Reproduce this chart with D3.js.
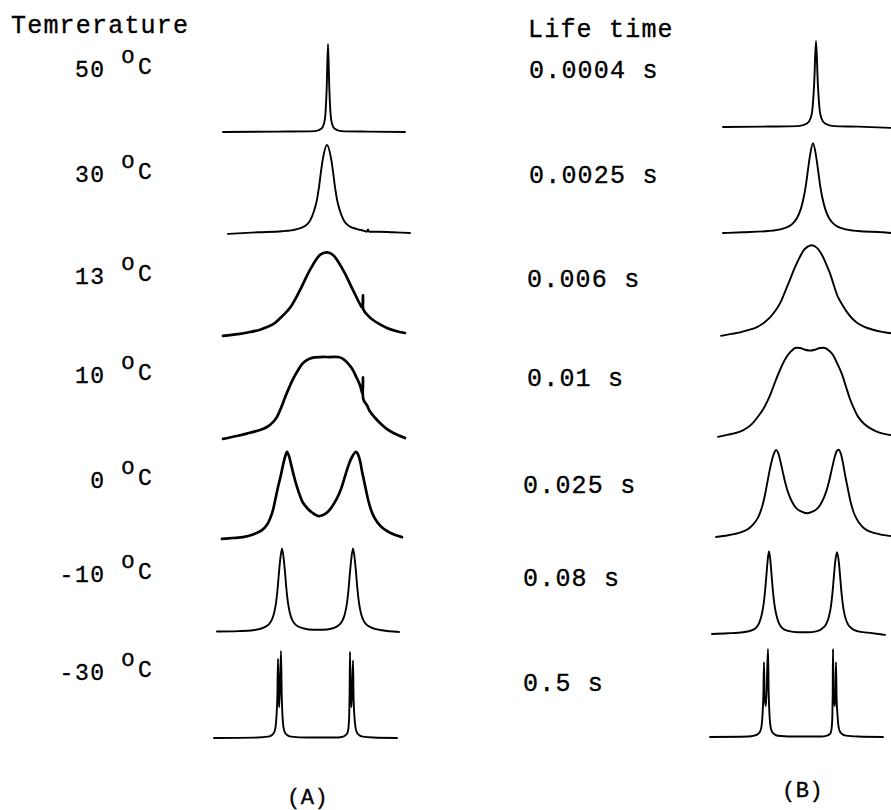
<!DOCTYPE html>
<html>
<head>
<meta charset="utf-8">
<script src="https://cdn.jsdelivr.net/npm/d3@7"></script>
<style>
  html, body { margin: 0; padding: 0; background: #fff; }
  svg { display: block; }
</style>
</head>
<body>
<div id="chart"></div>
<script>
// ---------------- DATA ----------------
const temperatures = ["50", "30", "13", "10", "0", "-10", "-30"];
const lifetimes = ["0.0004 s", "0.0025 s", "0.006 s", "0.01 s", "0.025 s", "0.08 s", "0.5 s"];
const panelLabels = ["(A)", "(B)"];
const headerA = "Temrerature";
const headerB = "Life time";

// Panel A: measured spectra (frequency offset, relative intensity)
const specA50 = [[-95,0],[-40,0.4],[-3,1],[3.6,4],[6.1,10],[7.4,20],[8.7,50],[10,100],[11.3,50],[12.6,20],[13.9,10],[16.4,4],[23,1],[50,0.4],[87,0]];
const specA30 = [[-90,-1],[-60,0.8],[-36,2],[-21,4.5],[-13,8],[-8,14],[-4,25],[-1,38],[1,52],[3,70],[5,85],[9,100],[13,85],[15,70],[17,52],[19,38],[22,25],[26,14],[31,8],[39,4.5],[46,2.5],[49,1.5],[50,4],[51,1.5],[60,1.5],[75,0.8],[92,0]];
const specA13 = [[-95,-1],[-80,1],[-68,3.4],[-58,6],[-51,9],[-44,13],[-38,19],[-28,31],[-18,51],[-8,74],[2,91],[9,94],[15,91],[25,74],[35,51],[43,33],[44.6,31],[45,45],[45.4,29],[50,22],[55,17],[62,12],[69,8],[78,4.5],[87,2.3]];
const specA10 = [[-95,-1],[-80,2.5],[-68,6],[-58,9],[-51,12.5],[-45,18],[-41,24],[-37,34],[-33,46],[-29,57],[-25,67],[-20,77],[-16,84],[-12,88],[-6,91],[2,92],[12,92],[20,92],[25,90],[29,86],[34,79],[38,70],[42,60],[44.6,50],[45,69],[45.4,44],[49,37],[52,30],[57,23],[62,17],[68,11],[75,6],[87,0]];
const specA0 = [[-96,-1],[-85,0],[-75,1],[-65,4],[-56,9],[-51,15],[-46,28],[-43,42],[-40,58],[-37,72],[-35,83],[-33,92],[-31,98],[-29,93],[-27,84],[-24,70],[-21,58],[-18,48],[-15,40],[-10,33],[-6,29],[0,25],[5,26],[9,29],[13,34],[17,41],[21,50],[24,59],[27,70],[30,81],[34,92],[38,98],[40,95],[42,88],[44,76],[47,60],[50,44],[53,32],[56,24],[60,17],[65,11],[72,6],[84,1]];
const specAm10 = [[-101,0.5],[-80,1],[-65,2],[-58,3.5],[-51,7],[-47,12],[-44,21],[-42,33],[-40.5,48],[-39,68],[-38,80],[-36,95],[-34,80],[-33,68],[-31.5,48],[-30,33],[-28,21],[-25,12],[-21,7],[-14,4],[-5,2.5],[5,2.5],[14,4],[20,7],[24,12],[27,21],[29,33],[30.5,48],[32,68],[33,80],[35,95],[37,80],[38,68],[39.5,48],[41,33],[43,21],[46,12],[50,7],[57,3.5],[64,2],[81,0]];
const specAm30 = [[-104,0],[-60,0.5],[-50,1.5],[-46,3.5],[-44,6],[-42.5,12],[-41.5,25],[-40.6,50],[-40,90],[-39.4,45],[-38.7,35],[-37,99],[-36.3,50],[-35.5,25],[-34.5,12],[-33,6],[-31,3.5],[-27,1.5],[-10,0.5],[20,0.5],[25,1.5],[28,3.5],[29.5,6],[30.5,12],[31.2,25],[31.6,50],[32,98],[32.7,45],[33.5,35],[35,88],[35.6,45],[36.4,25],[37.5,12],[39,6],[41,3.5],[45,1.5],[55,0.5],[79,0]];

// Panel B: simulated spectra (frequency offset, relative intensity)
const specB0004 = [[-85,0],[-40,0.5],[-10,1],[-1,4],[2.6,10],[4.4,20],[6.2,50],[8,98],[9.8,50],[11.6,20],[13.4,10],[17,4],[26,1],[50,0.4],[83,-1]];
const specB0025 = [[-85,0],[-65,0.8],[-40,2.2],[-25,5],[-17,9],[-11,17],[-7,28],[-4,42],[-2,55],[0,72],[2,88],[5,102],[8,88],[10,72],[12,55],[14,42],[17,28],[21,17],[27,9],[35,5],[50,2.2],[75,0.8],[83,0]];
const specB006 = [[-87,-1],[-78,1],[-68,3],[-60,5.5],[-51,9],[-44,14],[-38,20],[-33,27],[-28,36],[-23,49],[-18,63],[-13,77],[-8,89],[-3,98],[4,102],[9,99],[14,91],[18,81],[22,70],[26,56],[30,43],[34,35],[39,26],[44,19],[49,14],[57,9],[65,6],[74,3.5],[83,2]];
const specB01 = [[-90,-1],[-80,1.5],[-68,5],[-60,10],[-55,15],[-50,22],[-45,30],[-40,41],[-36,52],[-32,64],[-28,75],[-23,87],[-18,95],[-13,100],[-8,100],[-3,98],[2,97],[7,98],[12,100],[17,100],[22,96],[25,92],[29,83],[34,70],[38,56],[42,42],[46,31],[50,22],[56,14],[62,9],[70,4.5],[83,1]];
const specB025 = [[-92,0],[-80,2],[-68,5],[-60,9],[-55,14],[-50,22],[-46,34],[-43,48],[-40,66],[-37,83],[-34,95],[-32,99],[-30,96],[-28,88],[-26,78],[-23,63],[-20,51],[-16,40],[-12,33],[-7,29],[-1,27],[5,29],[10,33],[14,40],[18,51],[21,63],[24,78],[27,92],[29,98],[31,99],[33,94],[35,84],[37,71],[40,54],[43,38],[46,27],[50,18],[56,10],[62,6],[72,3],[83,1]];
const specB08 = [[-96,0],[-80,0.8],[-65,2],[-58,3.5],[-52,7],[-49,12],[-46.5,21],[-44.5,33],[-43,48],[-41.5,68],[-40.5,82],[-39,94],[-37.5,82],[-36.5,68],[-35,48],[-33.5,33],[-31.5,21],[-29,12],[-26,7],[-20,3.5],[-10,2],[0,2],[8,3],[14,6],[18,11],[21,20],[23,32],[24.5,47],[26,67],[27,80],[29,93],[31,80],[32,67],[33.5,47],[35,32],[37,20],[40,11],[44,6],[50,3],[60,1.5],[77,-1]];
const specB5 = [[-98,0],[-60,0.5],[-54,1.5],[-50,3.5],[-48,6],[-46.5,12],[-45.5,25],[-44.6,50],[-44,85],[-43.4,45],[-42,35],[-40,100],[-39.3,50],[-38.5,25],[-37.5,12],[-36,6],[-34,3.5],[-30,1.5],[-10,0.5],[13,0.5],[19,1.5],[22,3.5],[23,6],[23.8,12],[24.4,25],[24.7,50],[25,100],[25.6,45],[27,35],[28,85],[28.6,45],[29.5,25],[30.5,12],[32,6],[34,3.5],[38,1.5],[50,0.5],[75,0]];

const spectraA = [specA50, specA30, specA13, specA10, specA0, specAm10, specAm30];
const spectraB = [specB0004, specB0025, specB006, specB01, specB025, specB08, specB5];

// ---------------- LAYOUT / STYLE ----------------
const W = 891, H = 810;
const baselinesA = [132, 233, 335, 438, 538, 632, 738];
const baselinesB = [127, 233, 335, 436, 537, 634, 737];
const labelBaseA = [77, 182, 284, 383, 488, 582, 680];
const labelBaseB = [78, 183, 287, 386, 493, 586, 691];
const labelXB = [529, 529, 527, 527, 523, 523, 523];
const smoothA = [false, false, true, true, true, false, false];
const smoothB = [false, false, true, true, true, false, false];
const noisyA = [false, false, true, true, true, false, false];
const peakPx = 88;

const svg = d3.select("#chart").append("svg")
  .attr("width", W).attr("height", H)
  .attr("viewBox", `0 0 ${W} ${H}`);
svg.append("rect").attr("width", W).attr("height", H).attr("fill", "#fff");

const xA = d3.scaleLinear().domain([-100, 100]).range([218, 418]);
const xB = d3.scaleLinear().domain([-100, 100]).range([708, 908]);

function drawPanel(spectra, baselines, x, smooth, noisy) {
  const g = svg.append("g");
  spectra.forEach((spec, i) => {
    const y = d3.scaleLinear().domain([0, 100]).range([baselines[i], baselines[i] - peakPx]);
    const line = d3.line()
      .x(d => x(d[0]))
      .y(d => y(d[1]))
      .curve(smooth[i] ? d3.curveCatmullRom.alpha(0.5) : d3.curveMonotoneX);
    g.append("path")
      .datum(spec)
      .attr("d", line)
      .attr("fill", "none")
      .attr("stroke", "#000")
      .attr("stroke-width", noisy && noisy[i] ? 2.7 : 1.9)
      .attr("stroke-linejoin", "round")
      .attr("stroke-linecap", "round");
  });
}
drawPanel(spectraA, baselinesA, xA, smoothA, noisyA);
drawPanel(spectraB, baselinesB, xB, smoothB, null);

const monoFont = "'Liberation Mono', 'DejaVu Sans Mono', monospace";
function txt(x, y, s, size, ls) {
  return svg.append("text").attr("x", x).attr("y", y)
    .attr("font-family", monoFont).attr("font-size", size)
    .attr("letter-spacing", ls || 0)
    .attr("fill", "#000").attr("stroke", "#000").attr("stroke-width", 0.35)
    .text(s);
}

// Headers
txt(11, 33, headerA, 25, 1.2);
txt(528, 37, headerB, 25, 1.2);

// Temperature labels
temperatures.forEach((t, i) => {
  const b = labelBaseA[i];
  txt(104 + 1.5, b, t, 23, 1.5).attr("text-anchor", "end");
  txt(121, b - 14, "o", 23, 0);
  txt(138, b - 3, "C", 23, 0);
});

// Life time labels
lifetimes.forEach((t, i) => {
  txt(labelXB[i], labelBaseB[i], t, 25, 1.2);
});

// Panel labels
txt(287, 804, panelLabels[0], 22, 0.5);
txt(782, 797, panelLabels[1], 22, 0.5);
</script>
</body>
</html>
